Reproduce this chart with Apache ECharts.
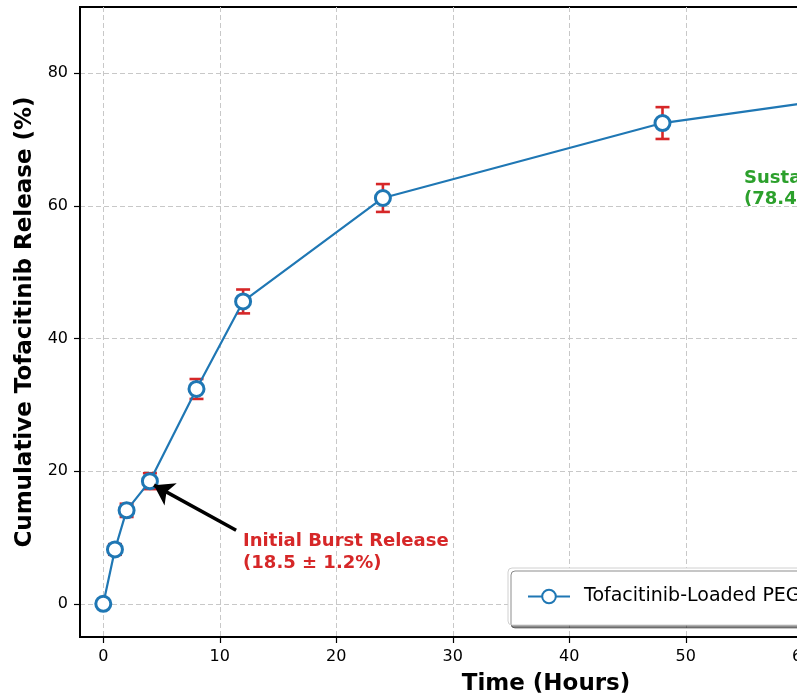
<!DOCTYPE html>
<html><head><meta charset="utf-8">
<script src="https://cdn.jsdelivr.net/npm/echarts@6/dist/echarts.min.js"></script>
<style>html,body{margin:0;padding:0;background:#fff;overflow:hidden;width:797px;height:698px}#c{width:1040px;height:698px}</style>
</head><body><div id="c"></div>
<script>
const timeHours = [0, 1, 2, 4, 8, 12, 24, 48, 72];
const releasePct = [0, 8.2, 14.1, 18.5, 32.4, 45.6, 61.2, 72.5, 78.4];
const releaseErr = [0, 0.8, 1.0, 1.2, 1.5, 1.8, 2.1, 2.4, 2.6];
const xTicks = [0, 10, 20, 30, 40, 50, 60, 70];
const yTicks = [0, 20, 40, 60, 80];
const seriesName = 'Tofacitinib-Loaded PEG-PLGA Nanoparticles';
const burstText = 'Initial Burst Release\n(18.5 ± 1.2%)';
const burstTextAt = [12, 7.8];
const burstArrow = [[11.4, 11.1], [4.35, 17.9]];
const sustText = 'Sustained Release\n(78.4 ± 2.6%)';
const sustTextAt = [55, 62.6];

const FONT = 'DejaVu Sans';
const chart = echarts.init(document.getElementById('c'));
const pts = timeHours.map((t, i) => [t, releasePct[i], releaseErr[i]]);
const gridLine = { show: true, lineStyle: { color: '#c8c8c8', type: [5, 3], width: 1 } };

chart.setOption({
  animation: false,
  textStyle: { fontFamily: FONT },
  grid: { left: 80, top: 7, width: 932, height: 630, outerBoundsMode: 'none', containLabel: false, show: true, borderColor: '#000', borderWidth: 2, backgroundColor: 'transparent' },
  xAxis: {
    type: 'value', min: -2, max: 78,
    name: 'Time (Hours)', nameLocation: 'middle', nameGap: 36,
    nameTextStyle: { fontFamily: FONT, fontSize: 23, fontWeight: 'bold', color: '#000' },
    axisLine: { show: true, onZero: false, lineStyle: { color: '#000', width: 2 } },
    axisTick: { show: true, length: 6, lineStyle: { color: '#000', width: 1.2 }, customValues: xTicks },
    axisLabel: { customValues: xTicks, fontSize: 16, color: '#000', margin: 12, fontFamily: FONT },
    splitLine: gridLine
  },
  yAxis: {
    type: 'value', min: -5, max: 90,
    name: 'Cumulative Tofacitinib Release (%)', nameLocation: 'middle', nameGap: 43,
    nameTextStyle: { fontFamily: FONT, fontSize: 23, fontWeight: 'bold', color: '#000' },
    axisLine: { show: true, onZero: false, lineStyle: { color: '#000', width: 2 } },
    axisTick: { show: true, length: 6, lineStyle: { color: '#000', width: 1.2 }, customValues: yTicks },
    axisLabel: { customValues: yTicks, fontSize: 16, color: '#000', margin: 12, fontFamily: FONT },
    splitLine: gridLine
  },
  legend: {
    left: 508, top: 568,
    padding: [17, 24, 17, 19],
    itemWidth: 42, itemHeight: 17, itemGap: 10,
    backgroundColor: '#fff', borderColor: '#d0d0d0', borderWidth: 1, borderRadius: 4,
    shadowColor: 'rgba(0,0,0,0.45)', shadowBlur: 0, shadowOffsetX: 3, shadowOffsetY: 3,
    textStyle: { fontFamily: FONT, fontSize: 19, lineHeight: 23, color: '#000', padding: [0, 0, 0, 9] },
    data: [seriesName]
  },
  series: [
    {
      type: 'custom', name: 'err', z: 2, silent: true,
      data: pts,
      renderItem: function (params, api) {
        const x = api.value(0), y = api.value(1), e = api.value(2);
        const top = api.coord([x, y + e]);
        const bot = api.coord([x, y - e]);
        const hw = 7;
        const st = { stroke: '#d62728', lineWidth: 2.6 };
        return {
          type: 'group', children: [
            { type: 'line', shape: { x1: top[0], y1: top[1], x2: bot[0], y2: bot[1] }, style: st },
            { type: 'line', shape: { x1: top[0] - hw, y1: top[1], x2: top[0] + hw, y2: top[1] }, style: st },
            { type: 'line', shape: { x1: bot[0] - hw, y1: bot[1], x2: bot[0] + hw, y2: bot[1] }, style: st }
          ]
        };
      }
    },
    {
      type: 'line', name: seriesName, z: 3,
      data: pts.map(p => [p[0], p[1]]),
      symbol: 'circle', symbolSize: 15, showAllSymbol: true,
      lineStyle: { color: '#1f77b4', width: 2.2 },
      itemStyle: { color: '#fff', borderColor: '#1f77b4', borderWidth: 3 },
      markLine: {
        silent: true, animation: false,
        symbol: ['none', 'arrow'], symbolSize: 19,
        label: { show: false },
        emphasis: { disabled: true },
        lineStyle: { color: '#000', width: 3.5, type: 'solid' },
        data: [[{ coord: burstArrow[0] }, { coord: burstArrow[1] }]]
      }
    }
  ]
});

function placeText() {
  const a = chart.convertToPixel({ gridIndex: 0 }, burstTextAt);
  const b = chart.convertToPixel({ gridIndex: 0 }, sustTextAt);
  chart.setOption({
    graphic: [
      { type: 'text', x: a[0], y: a[1], z: 10, style: { text: burstText, fill: '#d62728', font: 'bold 18px "DejaVu Sans"', lineHeight: 21.5, verticalAlign: 'middle', align: 'left' } },
      { type: 'text', x: b[0], y: b[1], z: 10, style: { text: sustText, fill: '#2ca02c', font: 'bold 18px "DejaVu Sans"', lineHeight: 21.5, verticalAlign: 'middle', align: 'left' } }
    ]
  });
}
placeText();
</script></body></html>
